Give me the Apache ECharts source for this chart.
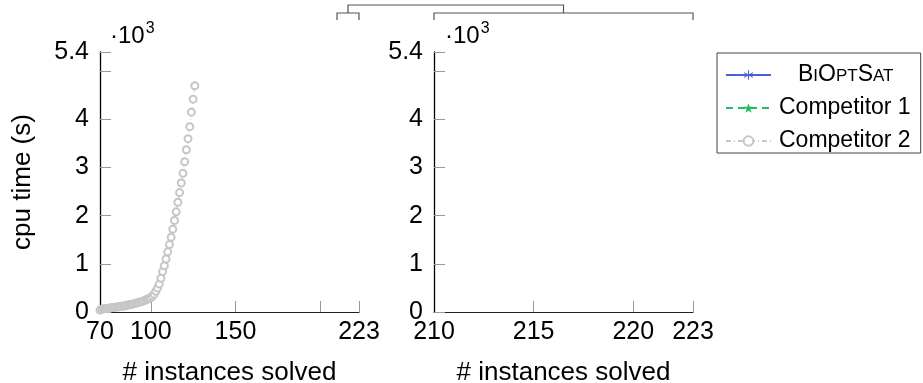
<!DOCTYPE html>
<html>
<head>
<meta charset="utf-8">
<script src="https://cdn.jsdelivr.net/npm/echarts@6/dist/echarts.min.js"></script>
<style>html,body{margin:0;padding:0;background:#fff;}#c{width:923px;height:383px;}</style>
</head>
<body>
<div id="c"></div>
<script>
// ---- data ----
const seriesNames = ['BiOptSat', 'Competitor 1', 'Competitor 2'];
const biOptSatX = [];
const biOptSatY = [];
const comp1X = [];
const comp1Y = [];
const comp2X = [70,71,72,73,74,75,76,77,78,79,80,81,82,83,84,85,86,87,88,89,90,91,92,93,94,95,96,97,98,99,100,101,102,103,104,105,106,107,108,109,110,111,112,113,114,115,116,117,118,119,120,121,122,123,124,125,126];
const comp2Y = [40,55,65,70,75,80,85,90,95,100,105,110,115,120,125,130,140,150,155,160,170,180,190,200,210,220,235,250,265,280,300,330,370,430,500,580,700,840,960,1100,1250,1400,1550,1720,1900,2080,2280,2480,2680,2880,3120,3370,3600,3850,4150,4420,4700];
const yTicks = [0,1000,2000,3000,4000,5000,5400];
const yLabels = [0,1000,2000,3000,4000,5400];
const xLeftRange = [70, 223];
const xLeftTicks = [100,150,200,223];
const xLeftLabels = [70,100,150,223];
const xRightRange = [210, 223];
const xRightTicks = [215,220,223];
const xRightLabels = [210,215,220,223];
const yMax = 5400;
const xName = '# instances solved';
const yName = 'cpu time (s)';

const zip = (xs, ys) => xs.map((x, i) => [x, ys[i]]);

const FONT = 'Liberation Sans, Arial, Helvetica, sans-serif';
const colors = ['#4d5fd6', '#22bb66', '#c6c6c6'];
const starPath = 'path://M0,-10 L2.4,-3.2 L9.5,-3.1 L3.8,1.2 L5.9,8.1 L0,4 L-5.9,8.1 L-3.8,1.2 L-9.5,-3.1 L-2.4,-3.2 Z';
const astPath = 'path://M-1,-10 L1,-10 L1,-1.7 L8.2,-5.9 L9.2,-4.2 L2,0 L9.2,4.2 L8.2,5.9 L1,1.7 L1,10 L-1,10 L-1,1.7 L-8.2,5.9 L-9.2,4.2 L-2,0 L-9.2,-4.2 L-8.2,-5.9 L-1,-1.7 Z';

const grids = [
  {left: 100, top: 52, width: 259, height: 260, containLabel: false, outerBoundsMode: 'none'},
  {left: 434, top: 52, width: 259, height: 260, containLabel: false, outerBoundsMode: 'none'}
];

function xAxisDef(gi, range, ticks, labels) {
  return {
    type: 'value', gridIndex: gi, min: range[0], max: range[1],
    name: xName, nameLocation: 'middle', nameGap: 48,
    nameTextStyle: {fontSize: 26, color: '#000', fontFamily: FONT},
    axisLine: {show: true, onZero: false, lineStyle: {color: '#222', width: 1.2}},
    axisTick: {show: true, inside: true, length: 11, customValues: ticks, lineStyle: {color: '#999', width: 1}},
    axisLabel: {customValues: labels, fontSize: 25, color: '#000', fontFamily: FONT, margin: 8, showMinLabel: true, showMaxLabel: true},
    splitLine: {show: false}
  };
}
function yAxisDef(gi, withName) {
  return {
    type: 'value', gridIndex: gi, min: 0, max: yMax,
    name: withName ? yName : '', nameLocation: 'middle', nameGap: 64,
    nameTextStyle: {fontSize: 26, color: '#000', fontFamily: FONT},
    axisLine: {show: true, onZero: false, lineStyle: {color: '#000', width: 1.3}},
    axisTick: {show: true, inside: true, length: 11, customValues: yTicks, lineStyle: {color: '#999', width: 1}},
    axisLabel: {customValues: yLabels, fontSize: 25, color: '#000', fontFamily: FONT, margin: 11,
      formatter: v => String(+(v / 1000).toFixed(1))},
    splitLine: {show: false}
  };
}

const seriesData = [zip(biOptSatX, biOptSatY), zip(comp1X, comp1Y), zip(comp2X, comp2Y)];
const seriesStyle = [
  {symbol: astPath, symbolSize: 9, lineType: 'solid', width: 1.2},
  {symbol: starPath, symbolSize: 9, lineType: [7, 5], width: 1.2},
  {symbol: 'emptyCircle', symbolSize: 7, lineType: [5, 3, 1, 3], width: 1}
];
const series = [];
for (let g = 0; g < 2; g++) {
  seriesNames.forEach((n, i) => {
    series.push({
      type: 'line', name: n, xAxisIndex: g, yAxisIndex: g,
      data: seriesData[i], clip: true, animation: false,
      symbol: seriesStyle[i].symbol, symbolSize: seriesStyle[i].symbolSize,
      showAllSymbol: true,
      itemStyle: {color: colors[i], borderColor: colors[i]},
      lineStyle: {color: colors[i], width: seriesStyle[i].width, type: seriesStyle[i].lineType}
    });
  });
}

const chart = echarts.init(document.getElementById('c'), null, {renderer: 'canvas'});
chart.setOption({
  animation: false,
  backgroundColor: '#fff',
  grid: grids,
  xAxis: [xAxisDef(0, xLeftRange, xLeftTicks, xLeftLabels), xAxisDef(1, xRightRange, xRightTicks, xRightLabels)],
  yAxis: [yAxisDef(0, true), yAxisDef(1, false)],
  legend: {
    data: seriesNames, orient: 'vertical', left: 717, top: 53,
    padding: [10, 10, 0, 8], itemGap: 9, itemWidth: 45, itemHeight: 12,
    borderColor: '#444', borderWidth: 1, borderRadius: 0,
    selectedMode: false,
    formatter: n => n === 'BiOptSat' ? '{pad|}{L|B}{s|I}{L|O}{s|PT}{L|S}{s|AT}' : '{n|' + n + '}',
    textStyle: {
      color: '#000', fontFamily: FONT, fontSize: 23, lineHeight: 24,
      rich: {
        pad: {width: 22},
        L: {fontSize: 23, color: '#000', fontFamily: FONT},
        s: {fontSize: 17, color: '#000', fontFamily: FONT, padding: [2, 0, 0, 0]},
        n: {fontSize: 23, color: '#000', fontFamily: FONT, padding: [0, 0, 0, 3]}
      }
    }
  },
  series: series
});

// decorations: zoom bracket and exponent labels
const px = (xi, v) => chart.convertToPixel({xAxisIndex: xi}, v);
const topY = chart.convertToPixel({yAxisIndex: 0}, yMax);
const aL = px(0, xRightRange[0]), bL = px(0, xRightRange[1]);
const aR = px(1, xRightRange[0]), bR = px(1, xRightRange[1]);
const yB = topY - 39, yT = topY - 47, yD = topY - 32;
const midL = (aL + bL) / 2, midR = (aR + bR) / 2;
const lineSt = {stroke: '#555', lineWidth: 1.2, fill: null};
const expText = (x) => ({
  type: 'text', left: x, top: 21, silent: true,
  style: {
    text: '{a|·10}{b|3}', fill: '#000',
    rich: {
      a: {fontSize: 24, fontFamily: FONT, fill: '#000', padding: [6, 0, 0, 0]},
      b: {fontSize: 16, fontFamily: FONT, fill: '#000', padding: [0, 0, 9, 1]}
    }
  }
});
chart.setOption({
  graphic: [
    {type: 'polyline', silent: true, shape: {points: [[aL, yD], [aL, yB], [bL, yB], [bL, yD]]}, style: lineSt},
    {type: 'polyline', silent: true, shape: {points: [[aR, yD], [aR, yB], [bR, yB], [bR, yD]]}, style: lineSt},
    {type: 'polyline', silent: true, shape: {points: [[midL, yB], [midL, yT], [midR, yT], [midR, yB]]}, style: lineSt},
    expText(px(0, xLeftRange[0]) + 10),
    expText(px(1, xRightRange[0]) + 11)
  ]
});
</script>
</body>
</html>
